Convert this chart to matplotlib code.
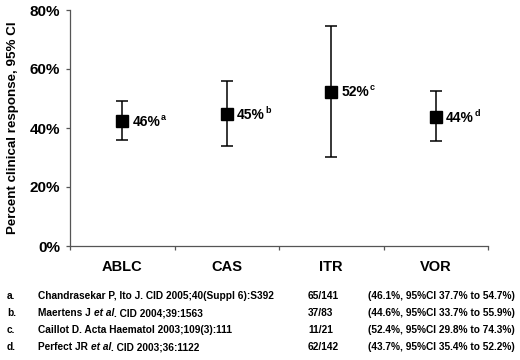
import matplotlib
matplotlib.use("Agg")
import matplotlib.pyplot as plt

plt.rcParams['font.family'] = ['Liberation Sans', 'DejaVu Sans']

categories = ["ABLC", "CAS", "ITR", "VOR"]
centers = [42.3, 44.7, 52.3, 43.7]
lows = [36.0, 34.0, 30.3, 35.6]
highs = [49.2, 55.9, 74.5, 52.4]
point_labels = ["46%", "45%", "52%", "44%"]
sup_letters = ["a", "b", "c", "d"]
yticks = [0, 20, 40, 60, 80]
ytick_labels = ["0%", "20%", "40%", "60%", "80%"]

ref_letters = ["a.", "b.", "c.", "d."]
ref_texts = [
    [("Chandrasekar P, Ito J. CID 2005;40(Suppl 6):S392", "normal")],
    [("Maertens J ", "normal"), ("et al", "italic"), (". CID 2004;39:1563", "normal")],
    [("Caillot D. Acta Haematol 2003;109(3):111", "normal")],
    [("Perfect JR ", "normal"), ("et al", "italic"), (". CID 2003;36:1122", "normal")],
]
ref_counts = ["65/141", "37/83", "11/21", "62/142"]
ref_ci = [
    "(46.1%, 95%CI 37.7% to 54.7%)",
    "(44.6%, 95%CI 33.7% to 55.9%)",
    "(52.4%, 95%CI 29.8% to 74.3%)",
    "(43.7%, 95%CI 35.4% to 52.2%)",
]

W, H = 520, 360
fig = plt.figure(figsize=(W / 100, H / 100), dpi=100)
ax = fig.add_axes([70 / W, 1 - 246 / H, (488 - 70) / W, (246 - 10) / H])

xs = list(range(len(categories)))
yerr = [[c - l for c, l in zip(centers, lows)], [h - c for c, h in zip(centers, highs)]]
ax.errorbar(xs, centers, yerr=yerr, fmt='s', color='black', ecolor='black',
            markersize=8, elinewidth=1.1, capsize=4.5, capthick=1.1)

ax.set_xlim(-0.5, len(categories) - 0.5)
ax.set_ylim(0, 80)
ax.set_yticks(yticks)
ax.set_yticklabels(ytick_labels, fontsize=11, fontweight='bold')
ax.set_xticks([x + 0.5 for x in [-1] + xs])
ax.set_xticklabels([])
ax.set_xticks(xs, minor=True)
ax.set_xticklabels(categories, minor=True, fontsize=10.5, fontweight='bold')
ax.tick_params(axis='x', which='minor', length=0, pad=10)
ax.tick_params(axis='x', which='major', length=3, width=0.9, color='#555555', direction='out')
ax.tick_params(axis='y', length=3, width=0.9, color='#555555', pad=4)
for s in ['top', 'right']:
    ax.spines[s].set_visible(False)
for s in ['left', 'bottom']:
    ax.spines[s].set_color('#555555')
    ax.spines[s].set_linewidth(0.9)

ax.set_ylabel("Percent clinical response, 95% CI", fontsize=9.6, fontweight='bold', labelpad=8)

for x, c, lab, sup in zip(xs, centers, point_labels, sup_letters):
    t = ax.annotate(lab, xy=(x, c), xytext=(7.5, -0.5), textcoords='offset points',
                    ha='left', va='center', fontsize=10, fontweight='bold')
    ax.annotate(sup, xy=(1, 1), xycoords=t, xytext=(0.3, 1.5), textcoords='offset points',
                ha='left', va='top', fontsize=6.5, fontweight='bold')

# reference table
row_y = [296, 313, 330, 347]
fs = 7.3
for i in range(4):
    yf = 1 - row_y[i] / H
    fig.text(7 / W, yf, ref_letters[i], fontsize=fs, fontweight='bold', va='center', ha='left')
    last = None
    for part, style in ref_texts[i]:
        if last is None:
            last = fig.text(38 / W, yf, part, fontsize=fs, fontweight='bold', style=style,
                            va='center', ha='left')
        else:
            last = ax.annotate(part, xy=(1, 0), xycoords=last, fontsize=fs, fontweight='bold',
                               style=style, va='bottom', ha='left', annotation_clip=False)
    fig.text(308 / W, yf, ref_counts[i], fontsize=fs, fontweight='bold', va='center', ha='left')
    fig.text(368 / W, yf, ref_ci[i], fontsize=fs, fontweight='bold', va='center', ha='left')

fig.savefig("out.png", dpi=100)
